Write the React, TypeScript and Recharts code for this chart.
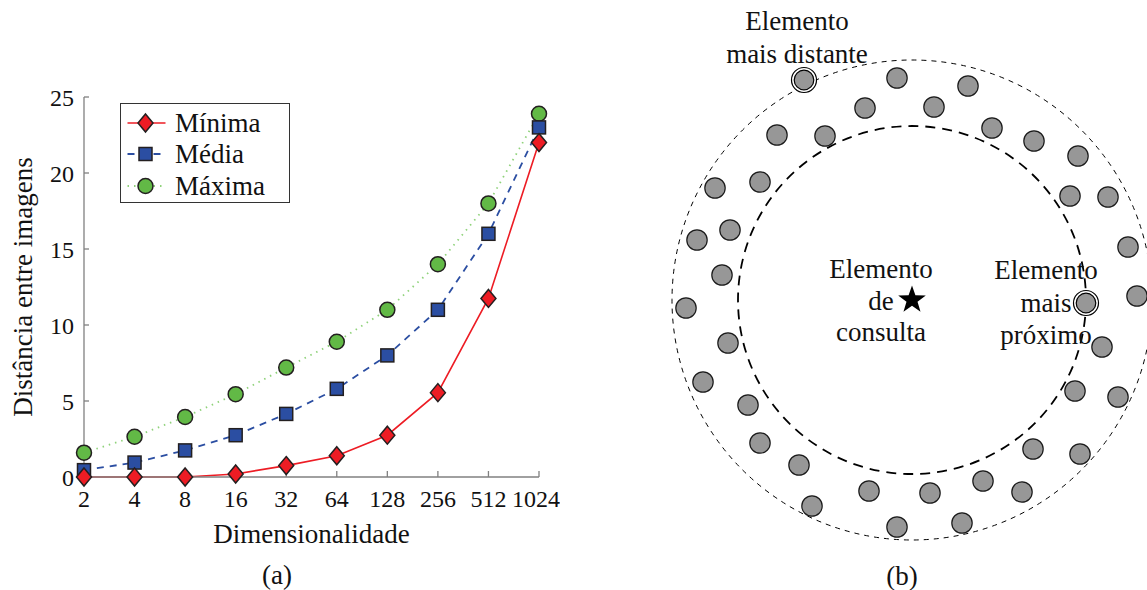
import { LineChart, Line, XAxis, YAxis, Legend, ScatterChart, Scatter, ReferenceDot } from 'recharts';

// (a) distâncias por dimensionalidade
const dimensoes = ['2', '4', '8', '16', '32', '64', '128', '256', '512', '1024'];
const minima = [0, 0, 0, 0.2, 0.75, 1.4, 2.75, 5.55, 11.75, 22.0];
const media = [0.45, 0.95, 1.75, 2.75, 4.15, 5.8, 8.0, 11.0, 16.0, 23.0];
const maxima = [1.6, 2.65, 3.95, 5.45, 7.2, 8.9, 11.0, 14.0, 18.0, 23.9];
const yTicks = [0, 5, 10, 15, 20, 25];

// (b) elementos em torno do elemento de consulta (origem)
const vizinhos = [
  { x: -15, y: 222 }, { x: 56, y: 214 }, { x: -47, y: 192 }, { x: 22, y: 193 },
  { x: -135, y: 165 }, { x: -87, y: 164 }, { x: 80, y: 172 }, { x: 122, y: 159 },
  { x: 166, y: 144 }, { x: -197, y: 112 }, { x: -152, y: 118 }, { x: 158, y: 104 },
  { x: 196, y: 103 }, { x: -215, y: 60 }, { x: -182, y: 70 }, { x: 216, y: 53 },
  { x: -190, y: 25 }, { x: 225, y: 4 }, { x: -226, y: -8 }, { x: -184, y: -43 },
  { x: -209, y: -82 }, { x: 190, y: -47 }, { x: -164, y: -105 }, { x: 163, y: -91 },
  { x: 206, y: -97 }, { x: -152, y: -143 }, { x: -113, y: -165 }, { x: 121, y: -149 },
  { x: 168, y: -154 }, { x: -43, y: -191 }, { x: 18, y: -193 }, { x: 71, y: -181 },
  { x: 110, y: -192 }, { x: -100, y: -206 }, { x: -15, y: -227 }, { x: 50, y: -223 },
];
const maisDistante = [{ x: -108, y: 220 }];
const maisProximo = [{ x: 174, y: -3 }];
const consulta = [{ x: 0, y: 0 }];
const raioInterno = 174;
const raioExterno = 240;

const RED = '#ed1c24';
const BLUE = '#2b4ea2';
const GREEN = '#62b946';
const EDGE = '#231f20';
const FONT = '"Liberation Serif", serif';

const data = dimensoes.map((d, i) => ({ dim: d, minima: minima[i], media: media[i], maxima: maxima[i] }));

const diamond = (cx: number, cy: number) => (
  <path d={`M${cx},${cy - 9} L${cx + 7.5},${cy} L${cx},${cy + 9} L${cx - 7.5},${cy} Z`} fill={RED} stroke={EDGE} strokeWidth={1.5} />
);
const square = (cx: number, cy: number) => (
  <rect x={cx - 6.5} y={cy - 6.5} width={13} height={13} fill={BLUE} stroke={EDGE} strokeWidth={1.5} />
);
const circle = (cx: number, cy: number) => <circle cx={cx} cy={cy} r={7.5} fill={GREEN} stroke={EDGE} strokeWidth={1.5} />;

const DiamondDot = (p: any) => (p.cx == null ? null : diamond(p.cx, p.cy));
const SquareDot = (p: any) => (p.cx == null ? null : square(p.cx, p.cy));
const CircleDot = (p: any) => (p.cx == null ? null : circle(p.cx, p.cy));

const series = [
  { key: 'minima', name: 'Mínima', color: RED, dash: undefined, width: 1.6, mark: diamond },
  { key: 'media', name: 'Média', color: BLUE, dash: '7 6', width: 1.8, mark: square },
  { key: 'maxima', name: 'Máxima', color: '#8fd27a', dash: '1.5 5', width: 1.8, mark: circle },
];

const LegendBox = () => (
  <div style={{ border: '1.5px solid #333', background: '#fff', width: 170, height: 100, boxSizing: 'border-box', paddingTop: 3, fontFamily: FONT }}>
    {series.map((s) => (
      <div key={s.key} style={{ display: 'flex', alignItems: 'center', height: 31.5 }}>
        <svg width={54} height={30} style={{ flex: 'none' }}>
          <line x1={6.5} x2={44.5} y1={15} y2={15} stroke={s.color} strokeWidth={s.width} strokeDasharray={s.dash} />
          {s.mark(24.5, 15)}
        </svg>
        <span style={{ fontSize: 27, color: '#111', lineHeight: '30px' }}>{s.name}</span>
      </div>
    ))}
  </div>
);

const Anel = (p: any) => (
  <g>
    <circle cx={p.cx} cy={p.cy} r={12.5} fill="#fff" stroke="#000" strokeWidth={1.2} />
    <circle cx={p.cx} cy={p.cy} r={9.8} fill="#979797" stroke="#000" strokeWidth={1.2} />
  </g>
);
const Ponto = (p: any) => <circle cx={p.cx} cy={p.cy} r={10.2} fill="#979797" stroke="#1a1a1a" strokeWidth={1.2} />;
const Estrela = (p: any) => {
  const pts: string[] = [];
  for (let i = 0; i < 10; i++) {
    const r = i % 2 === 0 ? 14.5 : 5.8;
    const a = -Math.PI / 2 + (i * Math.PI) / 5;
    pts.push(`${p.cx + r * Math.cos(a)},${p.cy + r * Math.sin(a)}`);
  }
  return <polygon points={pts.join(' ')} fill="#000" />;
};

const txt: React.CSSProperties = {
  position: 'absolute', fontFamily: FONT, fontSize: 27, color: '#111', textAlign: 'center', whiteSpace: 'nowrap',
};

export default function App() {
  return (
    <div style={{ position: 'absolute', left: 0, top: 0, width: 1147, height: 590, background: '#fff', fontFamily: FONT, overflow: 'hidden' }}>
      <div style={{ position: 'absolute', left: 0, top: 0 }}>
        <LineChart width={560} height={590} data={data} margin={{ top: 97, right: 21, bottom: 83, left: 24 }} style={{ fontFamily: FONT }}>
          <XAxis
            dataKey="dim"
            height={30}
            stroke="#808080"
            strokeWidth={1.3}
            tickSize={-6}
            tickMargin={19}
            tick={{ fill: '#111', fontSize: 24, fontFamily: FONT }}
            label={{ value: 'Dimensionalidade', position: 'bottom', offset: 17, fontSize: 27, fill: '#111', style: { fontFamily: FONT } }}
          />
          <YAxis
            width={60}
            domain={[0, 25]}
            ticks={yTicks}
            stroke="#808080"
            strokeWidth={1.3}
            tickSize={-5}
            tickMargin={15}
            tick={{ fill: '#111', fontSize: 24, fontFamily: FONT }}
            label={{ value: 'Distância entre imagens', angle: -90, position: 'left', offset: 2, fontSize: 27, fill: '#111', style: { fontFamily: FONT, textAnchor: 'middle' } }}
          />
          <Legend layout="vertical" align="center" verticalAlign="middle" content={<LegendBox />} wrapperStyle={{ left: 120, top: 103, width: 170 }} />
          <Line type="linear" dataKey="maxima" name="Máxima" stroke="#8fd27a" strokeWidth={1.8} strokeDasharray="1.5 5" dot={<CircleDot />} activeDot={false} isAnimationActive={false} />
          <Line type="linear" dataKey="media" name="Média" stroke={BLUE} strokeWidth={1.8} strokeDasharray="7 6" dot={<SquareDot />} activeDot={false} isAnimationActive={false} />
          <Line type="linear" dataKey="minima" name="Mínima" stroke={RED} strokeWidth={1.6} dot={<DiamondDot />} activeDot={false} isAnimationActive={false} />
        </LineChart>
      </div>

      <div style={{ position: 'absolute', left: 587, top: 0 }}>
        <ScatterChart width={560} height={590} margin={{ top: 0, right: 0, bottom: 0, left: 0 }}>
          <XAxis type="number" dataKey="x" hide domain={[-325, 235]} allowDataOverflow />
          <YAxis type="number" dataKey="y" hide domain={[-290, 300]} allowDataOverflow />
          <ReferenceDot x={0} y={0} r={raioExterno} fill="none" stroke="#000" strokeWidth={1} strokeDasharray="5 5" />
          <ReferenceDot x={0} y={0} r={raioInterno} fill="none" stroke="#000" strokeWidth={1.8} strokeDasharray="10 7" />
          <Scatter data={vizinhos} shape={Ponto} isAnimationActive={false} />
          <Scatter data={maisDistante} shape={Anel} isAnimationActive={false} />
          <Scatter data={maisProximo} shape={Anel} isAnimationActive={false} />
          <Scatter data={consulta} shape={Estrela} isAnimationActive={false} />
        </ScatterChart>
      </div>

      <div style={{ ...txt, left: 697, width: 200, top: 5, lineHeight: '33px' }}>Elemento<br />mais distante</div>
      <div style={{ ...txt, left: 781, width: 200, top: 254, lineHeight: '31.5px' }}>Elemento<br />de<br />consulta</div>
      <div style={{ ...txt, left: 946, width: 200, top: 254, lineHeight: '32.5px' }}>Elemento<br />mais<br />próximo</div>
      <div style={{ ...txt, left: 227, width: 100, top: 562, lineHeight: '26px' }}>(a)</div>
      <div style={{ ...txt, left: 852, width: 100, top: 563, lineHeight: '26px' }}>(b)</div>
    </div>
  );
}
